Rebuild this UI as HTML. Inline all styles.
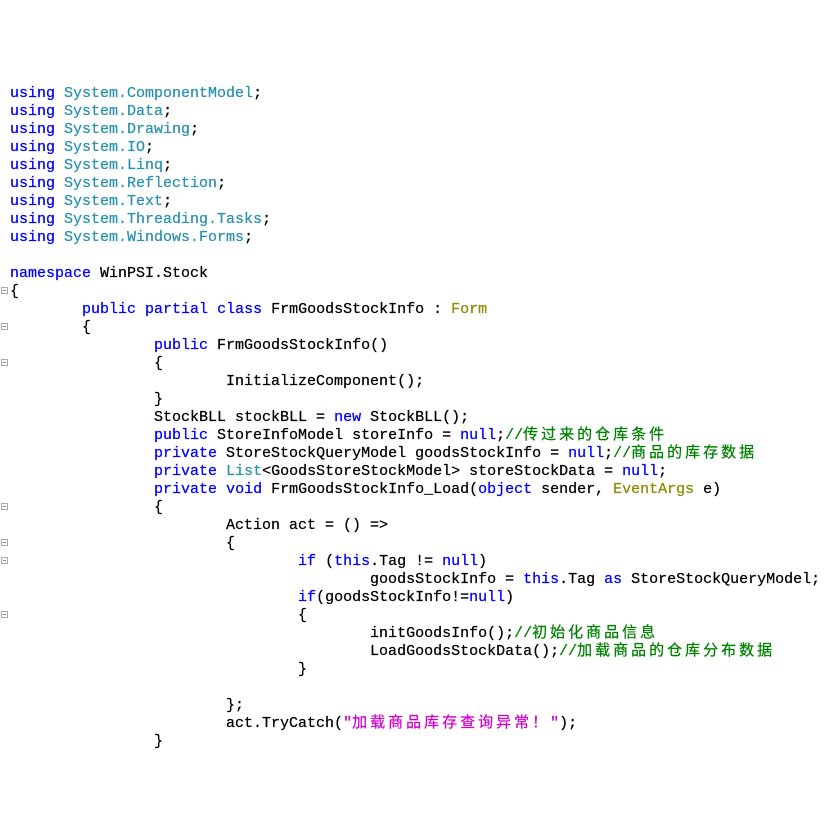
<!DOCTYPE html>
<html><head><meta charset="utf-8"><style>
body{margin:0;width:836px;height:836px;background:#fff;position:relative;overflow:hidden}
pre{position:absolute;left:10px;top:85px;margin:0;font-family:"Liberation Mono","Noto Sans CJK SC",monospace;font-size:15px;line-height:18px;color:#000;tab-size:8;-webkit-text-stroke:0.25px}
.k{color:#0000ff}.t{color:#2b91af}.o{color:#8b8b00}.c{color:#008000}.s{color:#d000d0}
.z{letter-spacing:3px}
.m{position:absolute;left:1px;width:5px;height:5px;border:1px solid #aaa;}
.m:after{content:"";position:absolute;left:1px;top:2px;width:3px;height:1px;background:#888}
</style></head><body>
<pre><span class="k">using</span> <span class="t">System.ComponentModel</span>;
<span class="k">using</span> <span class="t">System.Data</span>;
<span class="k">using</span> <span class="t">System.Drawing</span>;
<span class="k">using</span> <span class="t">System.IO</span>;
<span class="k">using</span> <span class="t">System.Linq</span>;
<span class="k">using</span> <span class="t">System.Reflection</span>;
<span class="k">using</span> <span class="t">System.Text</span>;
<span class="k">using</span> <span class="t">System.Threading.Tasks</span>;
<span class="k">using</span> <span class="t">System.Windows.Forms</span>;

<span class="k">namespace</span> WinPSI.Stock
{
        <span class="k">public</span> <span class="k">partial</span> <span class="k">class</span> FrmGoodsStockInfo : <span class="o">Form</span>
        {
                <span class="k">public</span> FrmGoodsStockInfo()
                {
                        InitializeComponent();
                }
                StockBLL stockBLL = <span class="k">new</span> StockBLL();
                <span class="k">public</span> StoreInfoModel storeInfo = <span class="k">null</span>;<span class="c">//<span class="z">传过来的仓库条件</span></span>
                <span class="k">private</span> StoreStockQueryModel goodsStockInfo = <span class="k">null</span>;<span class="c">//<span class="z">商品的库存数据</span></span>
                <span class="k">private</span> <span class="t">List</span>&lt;GoodsStoreStockModel&gt; storeStockData = <span class="k">null</span>;
                <span class="k">private</span> <span class="k">void</span> FrmGoodsStockInfo_Load(<span class="k">object</span> sender, <span class="o">EventArgs</span> e)
                {
                        Action act = () =&gt;
                        {
                                <span class="k">if</span> (<span class="k">this</span>.Tag != <span class="k">null</span>)
                                        goodsStockInfo = <span class="k">this</span>.Tag <span class="k">as</span> StoreStockQueryModel;
                                <span class="k">if</span>(goodsStockInfo!=<span class="k">null</span>)
                                {
                                        initGoodsInfo();<span class="c">//<span class="z">初始化商品信息</span></span>
                                        LoadGoodsStockData();<span class="c">//<span class="z">加载商品的仓库分布数据</span></span>
                                }

                        };
                        act.TryCatch(<span class="s">"<span class="z">加载商品库存查询异常！</span>"</span>);
                }</pre>
<div class="m" style="top:287px"></div>
<div class="m" style="top:323px"></div>
<div class="m" style="top:359px"></div>
<div class="m" style="top:503px"></div>
<div class="m" style="top:539px"></div>
<div class="m" style="top:557px"></div>
<div class="m" style="top:611px"></div>
</body></html>
